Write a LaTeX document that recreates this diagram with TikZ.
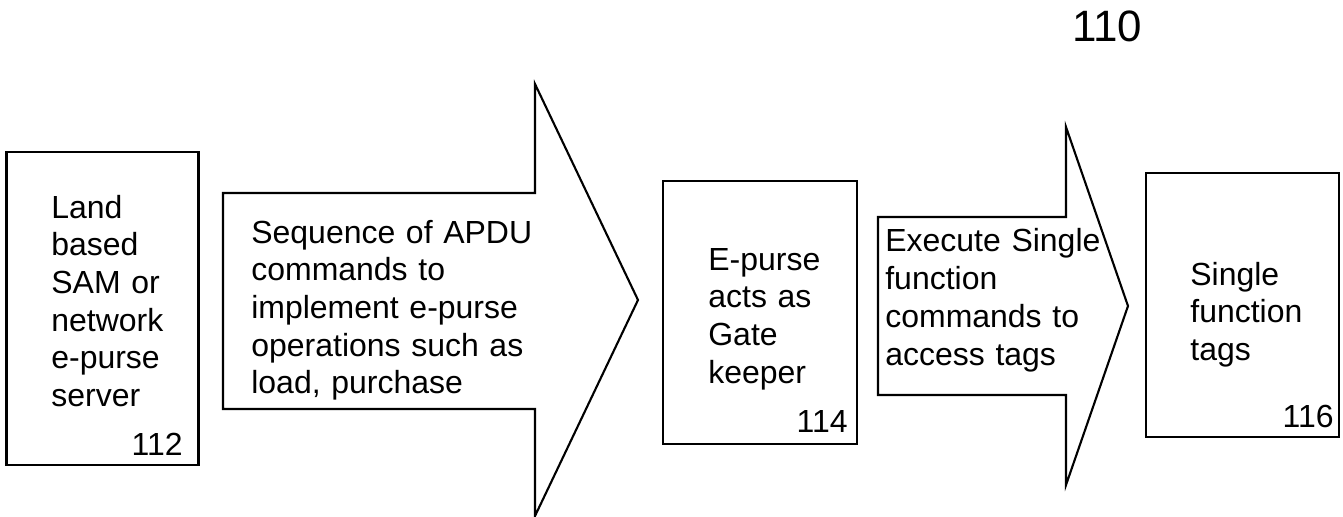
\documentclass[tikz,border=0pt]{standalone}
\usepackage{fontspec}
\setmainfont{Liberation Sans}
\newcommand{\bodyfont}{\fontsize{18.2}{21.45}\selectfont}
\newcommand{\bigfont}{\fontsize{25}{30}\selectfont}
\begin{document}
\begin{tikzpicture}[x = 0.02cm, y = -0.02cm,
  box/.style = {rectangle, draw, line width = 1.2pt, inner sep = 0pt},
  blockarrow/.style = {draw, line width = 1.2pt, line join = miter},
  txt/.style = {anchor = base west, inner sep = 0pt, text width = 7cm, align = left, font = \bodyfont},
  num/.style = {anchor = base east, inner sep = 0pt, font = \bodyfont}]

\useasboundingbox (0, 0) rectangle (1343, 517);

%%% Figure number
\node [anchor = base west, inner sep = 0pt, font = \bigfont] (fig) at (1072, 42) {110};

%%% Land based SAM
\node [box, minimum width = 3.84cm, minimum height = 6.26cm] (sam) at (102.5, 308.5) {};
\node [txt] (samtext) at (51, 218) {Land\\based\\SAM or\\network\\e-purse\\server};
\node [num] (samnum) at (183, 455) {112};

%%% APDU arrow
\draw [blockarrow] (223, 193) -- (535, 193) -- (535, 84) -- (638, 300) -- (535, 516) -- (535, 409) -- (223, 409) -- cycle;
\node [txt] (apdu) at (251, 243) {Sequence of APDU\\commands to\\implement e-purse\\operations such as\\load, purchase};

%%% Gate keeper
\node [box, minimum width = 3.88cm, minimum height = 5.26cm] (gate) at (760, 312.5) {};
\node [txt] (gatetext) at (708, 270) {E-purse\\acts as\\Gate\\keeper};
\node [num] (gatenum) at (848, 432) {114};

%%% Single function arrow
\draw [blockarrow] (878, 217) -- (1066, 217) -- (1066, 127) -- (1128, 306) -- (1066, 485) -- (1066, 395) -- (878, 395) -- cycle;
\node [txt] (exec) at (885, 252) {Execute Single\\function\\commands to\\access tags};

%%% Tags
\node [box, minimum width = 3.86cm, minimum height = 5.28cm] (tags) at (1242.5, 305) {};
\node [txt] (tagstext) at (1190, 285) {Single\\function\\tags};
\node [num] (tagsnum) at (1334, 427) {116};

\end{tikzpicture}
\end{document}
